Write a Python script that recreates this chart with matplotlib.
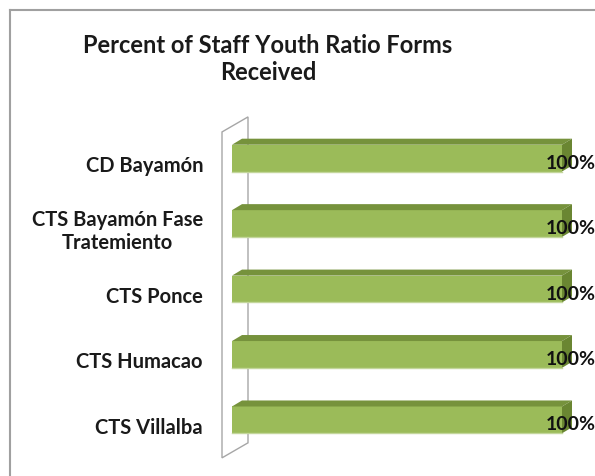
import matplotlib
matplotlib.use("Agg")
import matplotlib.pyplot as plt
from matplotlib.lines import Line2D
from matplotlib.patches import Polygon

plt.rcParams["font.family"] = ["Lato", "DejaVu Sans"]

categories = [
    "CD Bayamón",
    "CTS Bayamón Fase\nTratemiento",
    "CTS Ponce",
    "CTS Humacao",
    "CTS Villalba",
]
percent_received = [100, 100, 100, 100, 100]
value_labels = ["100%", "100%", "100%", "100%", "100%"]

W, H = 595, 477
fig = plt.figure(figsize=(W / 100, H / 100), dpi=100)
ax = fig.add_axes([232 / W, 0.049, 330 / W, 0.686])
ax.set_xlim(0, 100)
ax.set_ylim(4.5, -0.5)
ax.axis("off")

# pixel -> data scale factors for the 3-D depth offsets
px_x = 100 / 330
px_y = 1 / 65.25
dx, dy = 10 * px_x, 6 * px_y
bh = 0.41

front = "#9bbb59"
top = "#76923c"
side = "#6a8632"

# back wall (thin outlined panel)
wx0 = -10 * px_x
wdx, wdy = 26 * px_x, 15 * px_y
w_top, w_bot = -0.40, 4.58
wall = Polygon(
    [(wx0, w_top), (wx0, w_bot), (wx0 + wdx, w_bot - wdy), (wx0 + wdx, w_top - wdy)],
    closed=True, facecolor="white", edgecolor="#a6a6a6", linewidth=1.0,
    clip_on=False, zorder=1,
)
ax.add_patch(wall)

ys = list(range(len(categories)))
ax.barh(ys, percent_received, height=bh, color=front, edgecolor="none", zorder=3)

for y, v, lab in zip(ys, percent_received, value_labels):
    yt = y - bh / 2
    yb = y + bh / 2
    ax.add_patch(Polygon([(0, yt), (v, yt), (v + dx, yt - dy), (dx, yt - dy)],
                         closed=True, facecolor=top, edgecolor="none",
                         clip_on=False, zorder=3))
    ax.add_patch(Polygon([(v, yt), (v, yb), (v + dx, yb - dy), (v + dx, yt - dy)],
                         closed=True, facecolor=side, edgecolor="none",
                         clip_on=False, zorder=3))
    ax.plot([0, v], [yb, yb], color="#c3d69b", lw=1, zorder=4, clip_on=False)
    ax.text(v - 16 * px_x, y + 4 * px_y, lab, ha="left", va="center",
            fontsize=14, fontweight="bold", color="#111111",
            clip_on=False, zorder=5)
    ax.text(-29 * px_x, y + 7 * px_y, categories[y], ha="right", va="center",
            multialignment="center", fontsize=14.5, fontweight="bold",
            color="#1a1a1a", linespacing=1.15, clip_on=False, zorder=5)

fig.text(268 / W, 1 - 59 / H, "Percent of Staff Youth Ratio Forms\nReceived",
         ha="center", va="center", fontsize=17, fontweight="bold",
         color="#1a1a1a", linespacing=1.2)

# chart-area border (left and top edges)
fig.add_artist(Line2D([10 / W, 10 / W], [0, 1 - 11 / H], color="#a0a0a0", lw=1.5))
fig.add_artist(Line2D([10 / W, 1], [1 - 11 / H, 1 - 11 / H], color="#a0a0a0", lw=1.5))

fig.savefig("out.png", dpi=100)
